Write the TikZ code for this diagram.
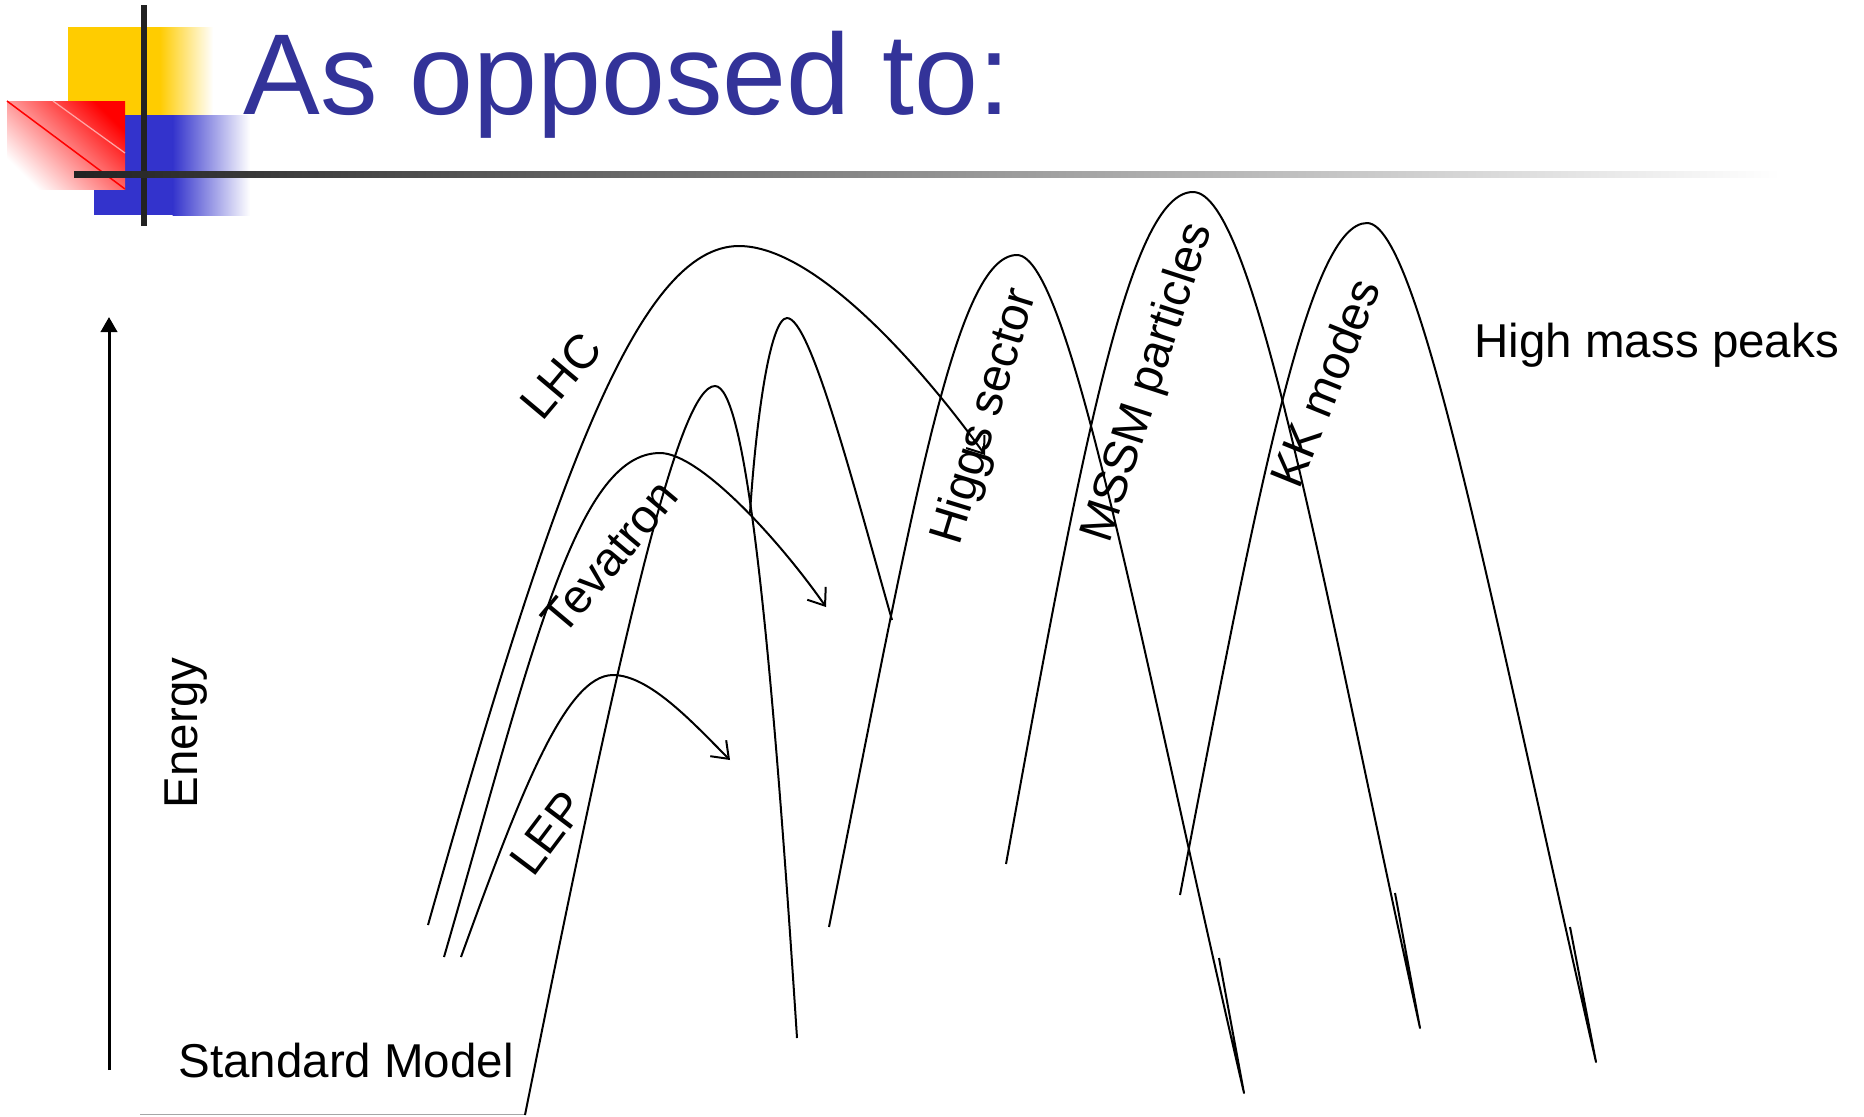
\documentclass[tikz,border=0pt]{standalone}
\usepackage{fontspec}
\setmainfont{Liberation Sans}
\usetikzlibrary{arrows.meta}
\definecolor{titleblue}{RGB}{51,51,153}
\definecolor{logoyellow}{RGB}{255,204,0}
\definecolor{logoblue}{RGB}{51,51,204}
\definecolor{logored}{RGB}{255,0,0}
\definecolor{bardark}{RGB}{34,34,34}
\tikzset{
  peak/.style={draw=black, line width=0.8pt, line join=round},
  barb/.style={-{Straight Barb[length=6pt,width=9pt]}},
  lbl/.style={inner sep=0pt, font=\fontsize{19pt}{22pt}\selectfont},
}
\begin{document}
\begin{tikzpicture}[x=0.4pt,y=-0.4pt]
\useasboundingbox (0,0) rectangle (1864,1116);

% ---- corner logo ----
\fill[logoyellow] (68,27) rectangle (160,115);
\shade[left color=logoyellow, right color=white] (159.5,27) rectangle (213,115);
\fill[logoblue] (94,115) rectangle (173,215);
\shade[left color=logoblue, right color=white] (172.5,115) rectangle (250,215);
\shade[top color=logored, bottom color=white, shading angle=-45] (7,101) rectangle (125,189);
\draw[logored!35, line width=0.5pt] (53,101) -- (125,153);
\draw[logored, line width=0.6pt] (7,101) -- (125,189);
\fill[bardark] (141,5) rectangle (147,226);
\shade[left color=bardark, right color=white] (74,171) rectangle (1780,177);

% ---- title ----
\node[anchor=base west, inner sep=0pt, text=titleblue,
      font=\fontsize{46pt}{50pt}\selectfont] (title) at (243,114) {As opposed to:};

% ---- energy axis ----
\coordinate (axisbot) at (109,1070);
\coordinate (axistop) at (109,317);
\draw[line width=1.2pt, -{Triangle[length=6pt,width=6.5pt]}] (axisbot) -- (axistop);
\node[lbl, rotate=90] (energy) at (186,733) {Energy};

% ---- base line and labels ----
\draw[gray!70, line width=0.6pt] (140,1114.5) -- (525,1114.5);
\node[lbl, anchor=base west] (sm) at (178,1077) {Standard Model};
\node[lbl, anchor=base west] (hmp) at (1474,357) {High mass peaks};

% ---- reach of the colliders ----
\coordinate (lhcA) at (428,925);  \coordinate (lhcT) at (739,246);  \coordinate (lhcB) at (985,455);
\coordinate (tevA) at (444,957);  \coordinate (tevT) at (660,453);  \coordinate (tevB) at (826,607);
\coordinate (lepA) at (461,957);  \coordinate (lepT) at (613,675);  \coordinate (lepB) at (730,760);
\draw[peak, barb] (lhcA) .. controls (555,475) and (639,246) .. (lhcT)
                         .. controls (815,246) and (921,366) .. (lhcB);
\draw[peak, barb] (tevA) .. controls (531,657) and (575,453) .. (tevT)
                         .. controls (700,453) and (780,541) .. (tevB);
\draw[peak, barb] (lepA) .. controls (519,797) and (565,675) .. (lepT)
                         .. controls (650,675) and (695,725) .. (lepB);

% ---- peaks ----
\coordinate (smA) at (525,1115);  \coordinate (smT) at (715,386);  \coordinate (smB) at (797,1038);
\draw[peak] (smA) .. controls (625,615) and (680,386) .. (smT)
                  .. controls (745,386) and (770,620) .. (smB);
\coordinate (p2A) at (750,513);   \coordinate (p2T) at (787,318);  \coordinate (p2B) at (892,620);
\draw[peak] (p2A) .. controls (756,420) and (770,318) .. (p2T)
                  .. controls (810,318) and (851,476) .. (p2B);
\coordinate (hgA) at (829,927);   \coordinate (hgT) at (1017,255); \coordinate (hgB) at (1244,1093);
\draw[peak] (hgA) .. controls (913,507) and (955,255) .. (hgT)
                  .. controls (1070,255) and (1142,655) .. (hgB) -- (1219,958);
\coordinate (msA) at (1006,864);  \coordinate (msT) at (1193,192); \coordinate (msB) at (1420,1028);
\draw[peak] (msA) .. controls (1082,444) and (1130,192) .. (msT)
                  .. controls (1255,192) and (1323,588) .. (msB) -- (1395,893);
\coordinate (kkA) at (1180,895);  \coordinate (kkT) at (1367,223); \coordinate (kkB) at (1596,1062);
\draw[peak] (kkA) .. controls (1260,475) and (1310,223) .. (kkT)
                  .. controls (1420,223) and (1495,623) .. (kkB) -- (1570,927);

% ---- curve labels ----
\node[lbl, rotate=50] (lhc) at (561,376) {LHC};
\node[lbl, rotate=50] (tev) at (610,557) {Tevatron};
\node[lbl, rotate=53] (lep) at (547,833) {LEP};
\node[lbl, rotate=73] (higgs) at (986,417) {Higgs sector};
\node[lbl, rotate=72] (mssm) at (1149,383) {MSSM particles};
\node[lbl, rotate=68] (kk) at (1325,383) {KK modes};
\end{tikzpicture}
\end{document}
